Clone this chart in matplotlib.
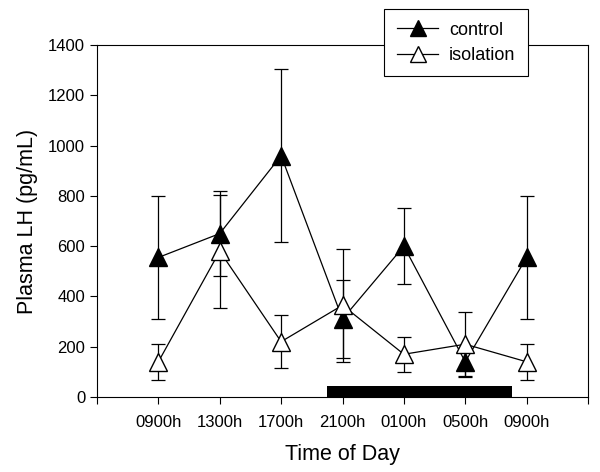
import matplotlib
matplotlib.use('Agg')
from matplotlib import pyplot as plt

plt.rcParams['font.family'] = ['Liberation Sans', 'DejaVu Sans']

# Data
times = ['0900h', '1300h', '1700h', '2100h', '0100h', '0500h', '0900h']
control = [555, 650, 960, 310, 600, 140, 555]
control_err = [245, 170, 345, 155, 150, 55, 245]
isolation = [140, 580, 220, 365, 170, 210, 140]
isolation_err = [72, 225, 105, 225, 70, 130, 72]
dark_start, dark_end, dark_height = 3.75, 6.76, 45

x = list(range(1, len(times) + 1))

fig = plt.figure(figsize=(6, 4.72), dpi=100)
ax = fig.add_axes([97 / 600, 75 / 472, 491 / 600, 352 / 472])

ax.errorbar(x, control, yerr=control_err, color='black', marker='^',
            markersize=13, markerfacecolor='black', markeredgecolor='black',
            linewidth=0.9, elinewidth=0.9, capsize=5, capthick=0.9,
            label='control', zorder=3)
ax.errorbar(x, isolation, yerr=isolation_err, color='black', marker='^',
            markersize=13, markerfacecolor='white', markeredgecolor='black',
            linewidth=0.9, elinewidth=0.9, capsize=5, capthick=0.9,
            label='isolation', zorder=4)

# dark phase bar
ax.fill_between([dark_start, dark_end], 0, dark_height, color='black',
                linewidth=0, zorder=5)

ax.set_xlim(0, 8)
ax.set_ylim(0, 1400)
ax.set_xticks(range(0, 9))
ax.set_xticklabels([''] + times + [''])
ax.set_yticks(range(0, 1401, 200))
ax.tick_params(direction='out', length=5, width=0.8, labelsize=12)
ax.tick_params(axis='x', pad=8)
for s in ax.spines.values():
    s.set_linewidth(0.8)

ax.set_xlabel('Time of Day', fontsize=15.5, labelpad=10)
ax.set_ylabel('Plasma LH (pg/mL)', fontsize=15.5, labelpad=7)

handles, labels = ax.get_legend_handles_labels()
handles = [h[0] for h in handles]
leg = ax.legend(handles, labels, loc='upper left',
                bbox_to_anchor=(0.585, 1.102), fontsize=13,
                frameon=True, fancybox=False, edgecolor='black',
                framealpha=1, borderpad=0.7, handlelength=2.3,
                handletextpad=0.6, labelspacing=0.45, borderaxespad=0,
                markerscale=0.9)
leg.get_frame().set_linewidth(0.8)

fig.savefig('out.png', dpi=100)
